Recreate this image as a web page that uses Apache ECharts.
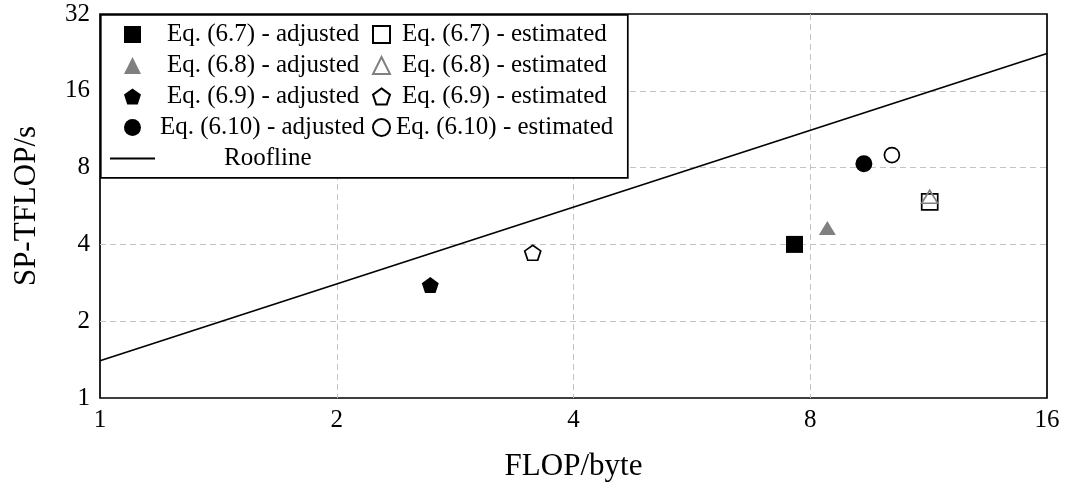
<!DOCTYPE html>
<html>
<head>
<meta charset="utf-8">
<script src="https://cdn.jsdelivr.net/npm/echarts@6/dist/echarts.min.js"></script>
<style>
html,body{margin:0;padding:0;background:#fff;}
#chart{width:1069px;height:484px;}
</style>
</head>
<body>
<div id="chart"></div>
<script>
// ---- data ----
const seriesNames = [
  'Eq. (6.7) - adjusted', 'Eq. (6.7) - estimated',
  'Eq. (6.8) - adjusted', 'Eq. (6.8) - estimated',
  'Eq. (6.9) - adjusted', 'Eq. (6.9) - estimated',
  'Eq. (6.10) - adjusted', 'Eq. (6.10) - estimated'
];
const eq67Adjusted = [7.64, 4.00];
const eq67Estimated = [11.35, 5.87];
const eq68Adjusted = [8.41, 4.64];
const eq68Estimated = [11.35, 6.15];
const eq69Adjusted = [2.63, 2.77];
const eq69Estimated = [3.55, 3.71];
const eq610Adjusted = [9.36, 8.29];
const eq610Estimated = [10.16, 8.96];
const rooflineX = [1, 16];
const rooflineY = [1.4, 22.4];
const xTicks = [1, 2, 4, 8, 16];
const yTicks = [1, 2, 4, 8, 16, 32];

// ---- styling ----
const FONT = 'Liberation Serif';
const GRAY = '#808080';
const pentagon = 'path://M95.1 0 L190.2 69.1 L153.9 180.9 L36.3 180.9 L0 69.1 Z';

function scatter(name, pt, symbol, size, filled, color) {
  return {
    name: name,
    type: 'scatter',
    data: [pt],
    symbol: symbol,
    symbolSize: size,
    itemStyle: filled
      ? { color: color, borderWidth: 0, opacity: 1 }
      : { color: 'rgba(255,255,255,0)', borderColor: color, borderWidth: 1.7, opacity: 1 },
    emphasis: { disabled: true },
    z: 3
  };
}

const series = [
  scatter(seriesNames[0], eq67Adjusted, 'rect', 17, true, '#000'),
  scatter(seriesNames[1], eq67Estimated, 'rect', 16, false, '#000'),
  scatter(seriesNames[2], eq68Adjusted, 'triangle', [17, 14], true, GRAY),
  scatter(seriesNames[3], eq68Estimated, 'triangle', [16, 13], false, GRAY),
  scatter(seriesNames[4], eq69Adjusted, pentagon, [17, 16], true, '#000'),
  scatter(seriesNames[5], eq69Estimated, pentagon, [16, 15], false, '#000'),
  scatter(seriesNames[6], eq610Adjusted, 'circle', 17, true, '#000'),
  scatter(seriesNames[7], eq610Estimated, 'circle', 15, false, '#000'),
  {
    name: 'Roofline',
    type: 'line',
    data: rooflineX.map((x, i) => [x, rooflineY[i]]),
    symbol: 'none',
    lineStyle: { color: '#000', width: 1.7 },
    itemStyle: { color: '#000' },
    emphasis: { disabled: true },
    z: 2
  }
];

const legendText = { fontFamily: FONT, fontSize: 25, color: '#000', lineHeight: 24 };
const gridLine = { show: true, showMinLine: false, showMaxLine: false, lineStyle: { color: '#c4c4c4', type: [6, 4], width: 1 } };

const option = {
  animation: false,
  backgroundColor: '#fff',
  grid: {
    left: 100, right: 22, top: 14, bottom: 86, containLabel: false, outerBoundsMode: 'none',
    show: true, borderColor: '#000', borderWidth: 1.7, backgroundColor: 'transparent'
  },
  xAxis: {
    type: 'log', logBase: 2, min: xTicks[0], max: xTicks[xTicks.length - 1], splitNumber: 4,
    name: 'FLOP/byte', nameLocation: 'middle', nameGap: 53,
    nameTextStyle: { fontFamily: FONT, fontSize: 31, color: '#000' },
    axisLine: { show: false }, axisTick: { show: false },
    axisLabel: { fontFamily: FONT, fontSize: 25, color: '#000', margin: 10 },
    splitLine: gridLine,
    minorTick: { show: false }
  },
  yAxis: {
    type: 'log', logBase: 2, min: yTicks[0], max: yTicks[yTicks.length - 1], splitNumber: 5,
    name: 'SP-TFLOP/s', nameLocation: 'middle', nameGap: 58,
    nameTextStyle: { fontFamily: FONT, fontSize: 31, color: '#000' },
    axisLine: { show: false }, axisTick: { show: false },
    axisLabel: { fontFamily: FONT, fontSize: 25, color: '#000', margin: 10 },
    splitLine: gridLine
  },
  graphic: [{
    type: 'rect', z: 50, silent: true,
    shape: { x: 100.8, y: 14.8, width: 527, height: 163 },
    style: { fill: '#fff', stroke: '#000', lineWidth: 1.7 }
  }],
  legend: [
    {
      z: 60, orient: 'vertical', left: 124, top: 22, itemGap: 6, itemWidth: 17, itemHeight: 17,
      selectedMode: false, padding: 0,
      data: [
        { name: seriesNames[0], textStyle: { padding: [0, 0, 0, 21] } },
        { name: seriesNames[2], textStyle: { padding: [0, 0, 0, 21] } },
        { name: seriesNames[4], textStyle: { padding: [0, 0, 0, 21] } },
        { name: seriesNames[6], textStyle: { padding: [0, 0, 0, 14] } }
      ],
      textStyle: legendText
    },
    {
      z: 60, orient: 'vertical', left: 372, top: 22, itemGap: 6, itemWidth: 17, itemHeight: 17,
      selectedMode: false, padding: 0,
      data: [
        { name: seriesNames[1], textStyle: { padding: [0, 0, 0, 7] } },
        { name: seriesNames[3], textStyle: { padding: [0, 0, 0, 7] } },
        { name: seriesNames[5], textStyle: { padding: [0, 0, 0, 7] } },
        { name: seriesNames[7], textStyle: { padding: [0, 0, 0, 1] } }
      ],
      textStyle: legendText
    },
    {
      z: 60, orient: 'vertical', left: 110, top: 146, itemWidth: 45, itemHeight: 2,
      selectedMode: false, padding: 0,
      data: [{ name: 'Roofline', icon: 'rect', textStyle: { padding: [0, 0, 0, 64] } }],
      textStyle: legendText
    }
  ],
  series: series
};

const chart = echarts.init(document.getElementById('chart'), null, { renderer: 'canvas' });
chart.setOption(option);
</script>
</body>
</html>
